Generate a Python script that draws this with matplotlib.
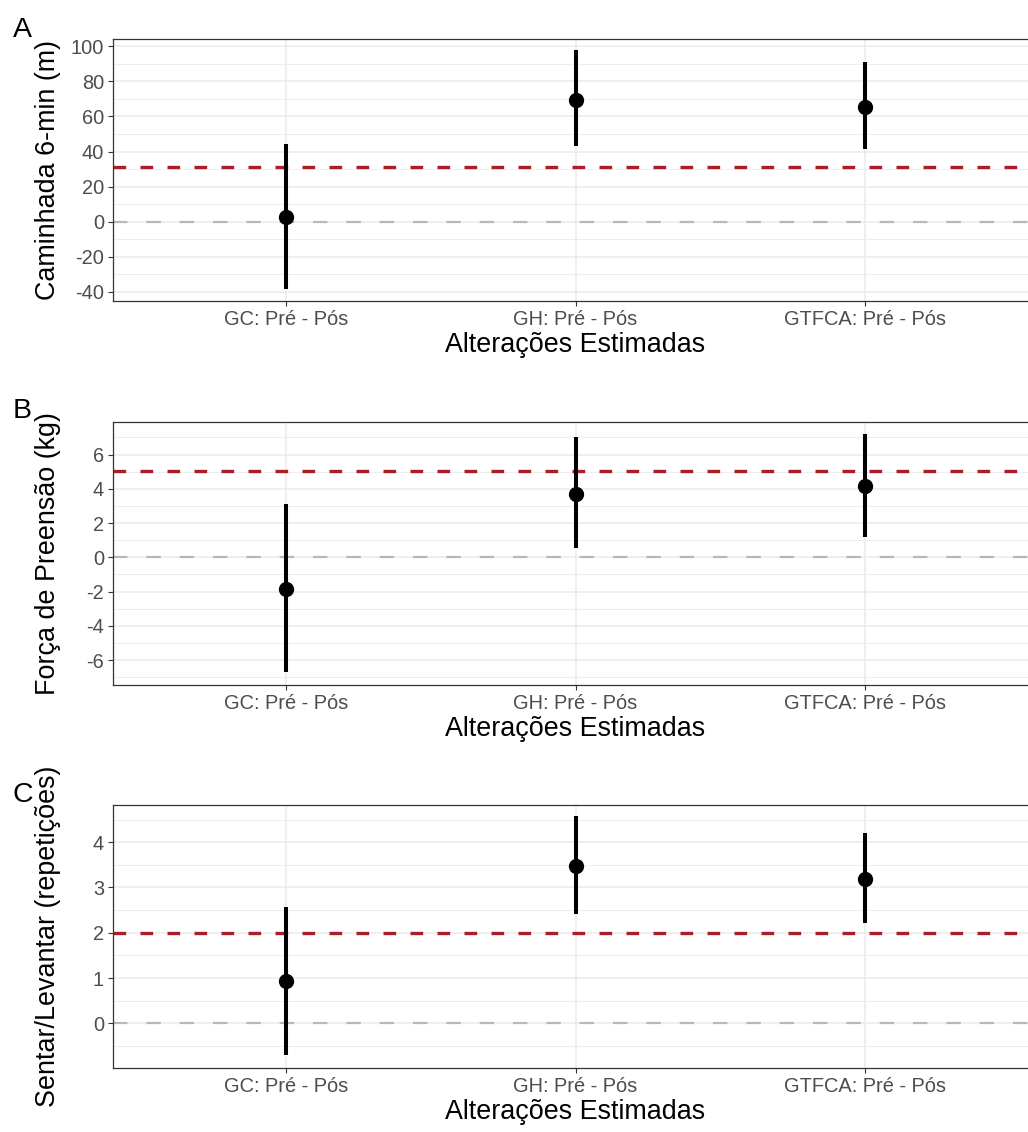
import numpy as np
import matplotlib
matplotlib.use('Agg')
import matplotlib.pyplot as plt

plt.rcParams['font.family'] = ['Liberation Sans', 'DejaVu Sans']

grupos = ['GC: Pré - Pós', 'GH: Pré - Pós', 'GTFCA: Pré - Pós']

# A - caminhada 6 min (m)
caminhada_est = [2.6, 69.2, 65.4]
caminhada_inf = [-38.2, 43.4, 41.6]
caminhada_sup = [44.1, 97.8, 90.8]
caminhada_ref = 31.1

# B - forca de preensao (kg)
forca_est = [-1.85, 3.71, 4.19]
forca_inf = [-6.72, 0.53, 1.21]
forca_sup = [3.12, 7.02, 7.21]
forca_ref = 5.05

# C - sentar/levantar (repeticoes)
sentar_est = [0.93, 3.48, 3.18]
sentar_inf = [-0.70, 2.41, 2.22]
sentar_sup = [2.58, 4.57, 4.20]
sentar_ref = 2.0

paineis = [
    ('A', 'Caminhada 6-min (m)', caminhada_est, caminhada_inf, caminhada_sup, caminhada_ref,
     np.arange(-40, 101, 20), np.arange(-30, 91, 20), (-45.3, 104.2)),
    ('B', 'Força de Preensão (kg)', forca_est, forca_inf, forca_sup, forca_ref,
     np.arange(-6, 7, 2), np.arange(-7, 8, 2), (-7.45, 7.88)),
    ('C', 'Sentar/Levantar (repetições)', sentar_est, sentar_inf, sentar_sup, sentar_ref,
     np.arange(0, 5, 1), np.arange(-0.5, 5, 1), (-0.99, 4.82)),
]

W, H = 1028, 1132
fig = plt.figure(figsize=(W / 100, H / 100), dpi=100)

# (top, bottom) de cada painel em pixels
caixas = [(39, 301), (422.3, 685), (805, 1068.3)]
esq, dir_ = 113, 1038
letras_y = [36.7, 418, 802]

x = np.arange(1, len(grupos) + 1)

for (letra, ylab, est, inf, sup, ref, maj, minr, ylim), (top, bot), ly in zip(paineis, caixas, letras_y):
    ax = fig.add_axes([esq / W, 1 - bot / H, (dir_ - esq) / W, (bot - top) / H])
    ax.set_xlim(0.4, 3.6)
    ax.set_ylim(*ylim)
    ax.set_yticks(maj)
    ax.set_yticks(minr, minor=True)
    ax.set_xticks(x)
    ax.set_xticklabels(grupos)
    ax.set_yticklabels([f'{v:g}' for v in maj])

    ax.grid(True, which='major', color='#EBEBEB', linewidth=1.1, zorder=0)
    ax.grid(True, which='minor', axis='y', color='#EEEEEE', linewidth=0.7, zorder=0)
    ax.set_axisbelow(True)

    ax.axhline(0, color='#B8B8B8', linewidth=1.6, dashes=(6.5, 8.5), zorder=1)
    ax.axhline(ref, color='#A81E2A', linewidth=2.4, dashes=(3.8, 4.3), zorder=1)

    ax.vlines(x, inf, sup, color='black', linewidth=2.9, zorder=3)
    ax.plot(x, est, 'o', color='black', markersize=10, zorder=4)

    for s in ax.spines.values():
        s.set_color('#333333')
        s.set_linewidth(0.9)
    ax.spines['right'].set_visible(False)
    ax.tick_params(axis='both', which='major', length=3.5, width=0.8, color='#333333',
                   labelcolor='#4D4D4D', labelsize=14.4, pad=3)
    ax.tick_params(axis='y', which='minor', length=0)

    ax.set_xlabel('Alterações Estimadas', fontsize=19.4, color='black', labelpad=2)
    ax.set_ylabel(ylab, fontsize=19.4, color='black')
    ax.yaxis.set_label_coords(-0.056, 0.5)

    fig.text(12.5 / W, 1 - ly / H, letra, fontsize=20.5, va='baseline', ha='left')

fig.savefig('out.png', dpi=100)
